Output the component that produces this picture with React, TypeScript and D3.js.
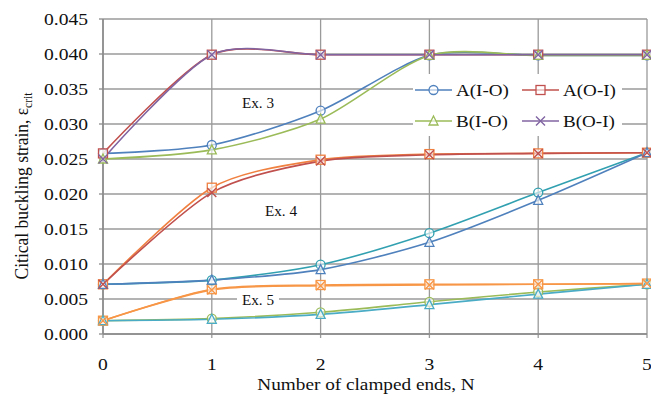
import React from "react";
import * as d3 from "d3";

const xValues = [0, 1, 2, 3, 4, 5];
const yTicks = [0, 0.005, 0.01, 0.015, 0.02, 0.025, 0.03, 0.035, 0.04, 0.045];

// Ex. 3
const ex3_AIO = [0.0258, 0.027, 0.0319, 0.0398, 0.0398, 0.0398];
const ex3_AOI = [0.0258, 0.0399, 0.0399, 0.0399, 0.0399, 0.0399];
const ex3_BIO = [0.025, 0.0263, 0.0307, 0.0398, 0.0398, 0.0398];
const ex3_BOI = [0.025, 0.0399, 0.0399, 0.0399, 0.0399, 0.0399];
// Ex. 4
const ex4_AIO = [0.0071, 0.0077, 0.0099, 0.0144, 0.0202, 0.0259];
const ex4_AOI = [0.0071, 0.0209, 0.0249, 0.0257, 0.0258, 0.0259];
const ex4_BIO = [0.0071, 0.0077, 0.0092, 0.0131, 0.0191, 0.0259];
const ex4_BOI = [0.0071, 0.0202, 0.0247, 0.0256, 0.0258, 0.0259];
// Ex. 5
const ex5_AIO = [0.0019, 0.0022, 0.0031, 0.0046, 0.006, 0.0071];
const ex5_AOI = [0.0019, 0.0064, 0.007, 0.0071, 0.0071, 0.0072];
const ex5_BIO = [0.0019, 0.0021, 0.0028, 0.0042, 0.0057, 0.0071];
const ex5_BOI = [0.0019, 0.0063, 0.0069, 0.007, 0.0071, 0.0072];

const legendNames = ["A(I-O)", "A(O-I)", "B(I-O)", "B(O-I)"];

type Marker = "circle" | "square" | "triangle" | "x";

const series: { values: number[]; color: string; marker: Marker }[] = [
  { values: ex5_AIO, color: "#9BBB59", marker: "circle" },
  { values: ex5_AOI, color: "#F79646", marker: "square" },
  { values: ex5_BIO, color: "#4BACC6", marker: "triangle" },
  { values: ex5_BOI, color: "#F79646", marker: "x" },
  { values: ex4_AIO, color: "#31A0B0", marker: "circle" },
  { values: ex4_AOI, color: "#F08040", marker: "square" },
  { values: ex4_BIO, color: "#4F81BD", marker: "triangle" },
  { values: ex4_BOI, color: "#C0504D", marker: "x" },
  { values: ex3_AIO, color: "#4F81BD", marker: "circle" },
  { values: ex3_AOI, color: "#C0504D", marker: "square" },
  { values: ex3_BIO, color: "#9BBB59", marker: "triangle" },
  { values: ex3_BOI, color: "#8064A2", marker: "x" },
];

const legendSeries: { color: string; marker: Marker }[] = [
  { color: "#4F81BD", marker: "circle" },
  { color: "#C0504D", marker: "square" },
  { color: "#9BBB59", marker: "triangle" },
  { color: "#8064A2", marker: "x" },
];

const font = "'Liberation Serif', 'Times New Roman', serif";
const SX = 1.12;

function SText({
  x,
  y,
  size,
  anchor = "start",
  sx = SX,
  children,
}: {
  x: number;
  y: number;
  size: number;
  anchor?: "start" | "middle" | "end";
  sx?: number;
  children: React.ReactNode;
}) {
  return (
    <text transform={`translate(${x},${y}) scale(${sx},1)`} textAnchor={anchor} fontSize={size} fill="#111">
      {children}
    </text>
  );
}

function MarkerShape({ type, cx, cy, color }: { type: Marker; cx: number; cy: number; color: string }) {
  const r = 4.5;
  if (type === "circle")
    return <circle cx={cx} cy={cy} r={r} fill="white" fillOpacity={0.6} stroke={color} strokeWidth={1.3} />;
  if (type === "square")
    return <rect x={cx - r} y={cy - r} width={2 * r} height={2 * r} fill="white" fillOpacity={0.6} stroke={color} strokeWidth={1.3} />;
  if (type === "triangle")
    return (
      <path
        d={`M${cx},${cy - r - 0.5}L${cx + r},${cy + r - 0.5}L${cx - r},${cy + r - 0.5}Z`}
        fill="white"
        fillOpacity={0.6}
        stroke={color}
        strokeWidth={1.3}
      />
    );
  return (
    <path
      d={`M${cx - r},${cy - r}L${cx + r},${cy + r}M${cx - r},${cy + r}L${cx + r},${cy - r}`}
      stroke={color}
      strokeWidth={1.4}
      fill="none"
    />
  );
}

export default function App() {
  const width = 651;
  const height = 400;
  const left = 103;
  const right = 647;
  const top = 19;
  const bottom = 334;

  const x = d3.scaleLinear().domain([0, 5]).range([left, right]);
  const y = d3.scaleLinear().domain([0, 0.045]).range([bottom, top]);

  const line = d3
    .line<number>()
    .x((_, i) => x(xValues[i]))
    .y((d) => y(d))
    .curve(d3.curveCardinal.tension(0.2));

  const gridColor = "#9a9a9a";

  return (
    <svg
      width={width}
      height={height}
      style={{ position: "absolute", left: 0, top: 0, background: "white" }}
      fontFamily={font}
    >
      <rect width={width} height={height} fill="white" />
      {yTicks.map((t) => (
        <line key={"h" + t} x1={left - 4} x2={right} y1={y(t)} y2={y(t)} stroke={gridColor} strokeWidth={1.3} />
      ))}
      {xValues.map((t) => (
        <line key={"v" + t} x1={x(t)} x2={x(t)} y1={top} y2={bottom + 4} stroke={gridColor} strokeWidth={1.3} />
      ))}
      <line x1={left} x2={left} y1={top} y2={bottom} stroke="#888" strokeWidth={1.5} />
      <line x1={left} x2={right} y1={bottom} y2={bottom} stroke="#888" strokeWidth={1.5} />

      {yTicks.map((t) => (
        <SText key={"yl" + t} x={left - 15} y={y(t) + 6} size={17.5} anchor="end">
          {d3.format(".3f")(t)}
        </SText>
      ))}
      {xValues.map((t) => (
        <SText key={"xl" + t} x={x(t)} y={370} size={17.5} anchor="middle">
          {t}
        </SText>
      ))}

      <rect x={237} y={290} width={42} height={18} fill="white" />

      {series.map((s, i) => (
        <path key={"s" + i} d={line(s.values) || ""} fill="none" stroke={s.color} strokeWidth={1.6} />
      ))}
      {series.map((s, i) => (
        <g key={"m" + i}>
          {s.values.map((v, j) => (
            <MarkerShape key={j} type={s.marker} cx={x(xValues[j])} cy={y(v)} color={s.color} />
          ))}
        </g>
      ))}

      <SText x={258} y={108} size={14.5} anchor="middle" sx={1.05}>Ex. 3</SText>
      <SText x={281} y={216} size={14.5} anchor="middle" sx={1.05}>Ex. 4</SText>
      <SText x={258} y={305} size={14.5} anchor="middle" sx={1.05}>Ex. 5</SText>

      <rect x={413} y={74} width={209} height={62} fill="white" />
      {legendSeries.map((s, i) => {
        const col = i % 2;
        const row = Math.floor(i / 2);
        const lx = 415 + col * 107;
        const ly = 90 + row * 31;
        return (
          <g key={"lg" + i}>
            <line x1={lx} x2={lx + 37} y1={ly} y2={ly} stroke={s.color} strokeWidth={1.6} />
            <MarkerShape type={s.marker} cx={lx + 18.5} cy={ly} color={s.color} />
            <SText x={lx + 41} y={ly + 6} size={17.5} sx={1.09}>
              {legendNames[i]}
            </SText>
          </g>
        );
      })}

      <SText x={366} y={390} size={17.5} anchor="middle" sx={1.1}>
        Number of clamped ends, N
      </SText>
      <text
        transform="translate(28,186) scale(1.08,1) rotate(-90)"
        textAnchor="middle"
        fontSize={17.5}
        fill="#111"
      >
        Citical buckling strain, ε
        <tspan fontSize={11.5} dy={4}>crit</tspan>
      </text>
    </svg>
  );
}
